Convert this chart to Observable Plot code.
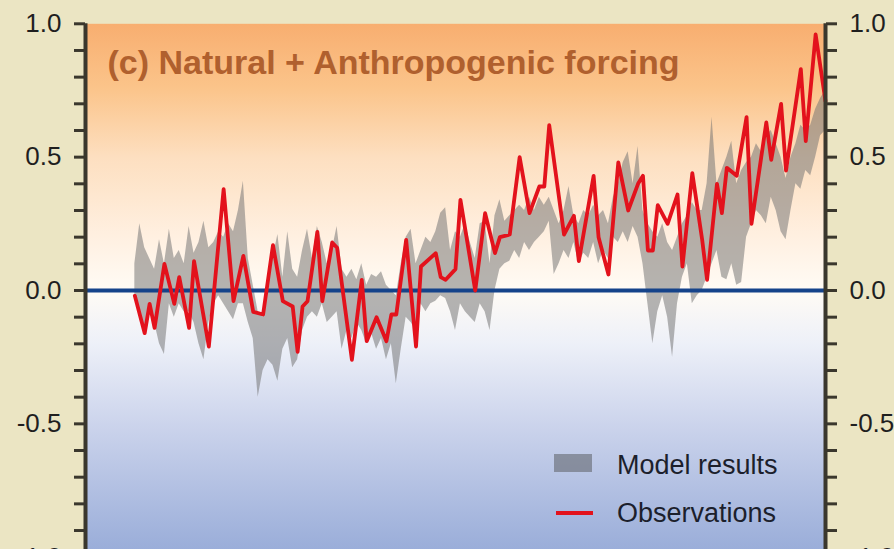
<!DOCTYPE html>
<html>
<head>
<meta charset="utf-8">
<script src="https://cdn.jsdelivr.net/npm/d3@7"></script>
<script src="https://cdn.jsdelivr.net/npm/@observablehq/plot@0.6"></script>
<style>
  html, body { margin: 0; padding: 0; background: #ebe5c3; overflow: hidden; }
  #wrap { position: relative; width: 894px; height: 549px; overflow: hidden; }
  #wrap svg g[aria-label^="y-axis"] line,
  #wrap svg g[aria-label^="y-axis"] path { stroke-width: 3px; stroke: #3a372d; }
  .leg { position: absolute; font-family: 'Liberation Sans', Arial, sans-serif; font-size: 27px; line-height: 27px; color: #1c1f2c; white-space: nowrap; }
</style>
</head>
<body>
<div id="wrap"></div>
<script>
// ---- Data ----
const titleText = "(c) Natural + Anthropogenic forcing";
const legendLabels = ["Model results", "Observations"];

// y-axis ticks (every 0.1) and labelled ticks
const yTicks = [-1.0,-0.9,-0.8,-0.7,-0.6,-0.5,-0.4,-0.3,-0.2,-0.1,0.0,0.1,0.2,0.3,0.4,0.5,0.6,0.7,0.8,0.9,1.0];
const yLabelled = [-1.0, -0.5, 0.0, 0.5, 1.0];

// Observations (red line)
const obsYears = [1860,1862,1863,1864,1866,1868,1869,1871,1872,1875,1878,1880,1882,1884,1886,1888,1890,1892,1893,1894,1895,1897,1898,1900,1901,1904,1906,1907,1909,1911,1912,1913,1915,1917,1918,1921,1922,1923,1925,1926,1929,1931,1933,1934,1936,1938,1940,1942,1943,1944,1947,1949,1950,1953,1954,1956,1958,1960,1962,1963,1964,1965,1966,1968,1970,1971,1973,1975,1976,1978,1979,1980,1982,1984,1985,1988,1989,1991,1992,1995,1996,1998,2000];
const obsValues = [-0.02,-0.16,-0.05,-0.14,0.10,-0.05,0.05,-0.14,0.11,-0.21,0.38,-0.04,0.13,-0.08,-0.09,0.17,-0.04,-0.06,-0.23,-0.06,-0.04,0.22,-0.04,0.18,0.16,-0.26,0.04,-0.19,-0.10,-0.19,-0.09,-0.09,0.19,-0.21,0.09,0.14,0.05,0.04,0.08,0.34,0.00,0.29,0.14,0.20,0.21,0.50,0.29,0.39,0.39,0.62,0.21,0.28,0.11,0.43,0.20,0.06,0.48,0.30,0.40,0.43,0.15,0.15,0.32,0.25,0.36,0.09,0.44,0.19,0.04,0.40,0.29,0.46,0.43,0.65,0.25,0.63,0.49,0.70,0.45,0.83,0.56,0.96,0.71];

// Model results envelope (grey band), one value per year 1860-2000
const bandYears = d3.range(1860, 2001);
const bandLo = [
 -0.02,-0.10,-0.14,-0.05,-0.12,-0.20,-0.24,-0.05,-0.10,-0.05, // 1860-69
 -0.08,-0.08,-0.12,-0.20,-0.26,-0.12,-0.05,-0.02,-0.05,-0.08, // 1870-79
 -0.11,-0.05,-0.05,-0.12,-0.18,-0.40,-0.30,-0.26,-0.28,-0.34, // 1880-89
 -0.22,-0.18,-0.29,-0.26,-0.15,-0.10,-0.08,-0.10,-0.05,-0.12, // 1890-99
 -0.10,-0.08,-0.22,-0.15,-0.18,-0.12,-0.15,-0.20,-0.16,-0.22, // 1900-09
 -0.18,-0.26,-0.20,-0.35,-0.22,-0.10,-0.12,-0.15,-0.05,-0.08, // 1910-19
 -0.05,-0.04,-0.02,-0.03,-0.08,-0.15,-0.05,-0.08,-0.10,-0.12, // 1920-29
 -0.05,-0.08,-0.15, 0.00, 0.08, 0.10, 0.11, 0.15, 0.12, 0.18, // 1930-39
  0.15, 0.18, 0.20, 0.22, 0.26, 0.06, 0.10, 0.15, 0.12, 0.18, // 1940-49
  0.10, 0.14, 0.12, 0.18, 0.10, 0.15, 0.12, 0.20, 0.18, 0.22, // 1950-59
  0.18, 0.24, 0.20, 0.10,-0.05,-0.20,-0.08,-0.02,-0.10,-0.25, // 1960-69
 -0.05, 0.05, 0.10,-0.05,-0.02, 0.00, 0.05, 0.10, 0.15, 0.05, // 1970-79
  0.04, 0.10, 0.02, 0.03, 0.20, 0.25, 0.30, 0.28, 0.25, 0.35, // 1980-89
  0.30, 0.22, 0.19, 0.30, 0.40, 0.38, 0.45, 0.43, 0.50, 0.58, // 1990-99
  0.60];                                                       // 2000
const bandHi = [
  0.10, 0.25, 0.16, 0.12, 0.08, 0.19, 0.10, 0.23, 0.12, 0.15, // 1860-69
  0.10, 0.24, 0.14, 0.18, 0.26, 0.16, 0.18, 0.22, 0.20, 0.25, // 1870-79
  0.22, 0.30, 0.41, 0.12, 0.02,-0.08,-0.10, 0.06, 0.12, 0.21, // 1880-89
  0.05, 0.22, 0.08, 0.05, 0.15, 0.23, 0.12, 0.24, 0.18, 0.10, // 1890-99
  0.15, 0.24, 0.08, 0.05, 0.08, 0.04, 0.10, 0.02, 0.06, 0.05, // 1900-09
  0.07, 0.02, 0.00,-0.02, 0.10, 0.20, 0.23, 0.10, 0.15, 0.20, // 1910-19
  0.18, 0.22, 0.29, 0.31, 0.15, 0.22, 0.20, 0.25, 0.18, 0.12, // 1920-29
  0.25, 0.26, 0.10, 0.28, 0.34, 0.26, 0.28, 0.30, 0.32, 0.30, // 1930-39
  0.35, 0.30, 0.35, 0.32, 0.35, 0.30, 0.25, 0.30, 0.39, 0.28, // 1940-49
  0.25, 0.30, 0.28, 0.32, 0.28, 0.30, 0.25, 0.35, 0.40, 0.48, // 1950-59
  0.52, 0.40, 0.54, 0.30, 0.25, 0.22, 0.20, 0.25, 0.18, 0.15, // 1960-69
  0.20, 0.25, 0.28, 0.33, 0.30, 0.30, 0.40, 0.65, 0.40, 0.45, // 1970-79
  0.50, 0.56, 0.40, 0.45, 0.48, 0.50, 0.55, 0.52, 0.58, 0.60, // 1980-89
  0.55, 0.50, 0.42, 0.50, 0.55, 0.62, 0.60, 0.62, 0.68, 0.72, // 1990-99
  0.75];                                                       // 2000

// ---- Tables built from the arrays ----
const obs = obsYears.map((year, i) => ({year, value: obsValues[i]}));
const band = bandYears.map((year, i) => ({year, lo: bandLo[i], hi: bandHi[i]}));

const fmt = d => yLabelled.some(v => Math.abs(v - d) < 1e-9) ? d.toFixed(1) : "";

const svg = Plot.plot({
  width: 894,
  height: 580,
  marginTop: 23.3,
  marginBottom: 23.3,
  marginLeft: 85,
  marginRight: 69,
  style: {
    fontFamily: "'Liberation Sans', Arial, sans-serif",
    fontSize: "26px",
    background: "transparent",
    color: "#1f1f1f",
    overflow: "visible"
  },
  x: {domain: [1850, 2000], axis: null},
  y: {domain: [-1, 1], axis: "both", ticks: yTicks, tickSize: 11, tickPadding: 13, tickFormat: fmt, label: null},
  marks: [
    Plot.frame({fill: "url(#bgGrad)", stroke: "none"}),
    Plot.areaY(band, {x: "year", y1: "lo", y2: "hi", fill: "#727272", fillOpacity: 0.52, curve: "linear"}),
    Plot.ruleY([0], {stroke: "#15438a", strokeWidth: 4}),
    Plot.line(obs, {x: "year", y: "value", stroke: "#e3121c", strokeWidth: 3.8, curve: "linear"}),
    Plot.ruleX([1850, 2000], {stroke: "#3a372d", strokeWidth: 4}),
    Plot.text([titleText], {frameAnchor: "top-left", dx: 22, dy: 26, fontSize: 34, fontWeight: "bold", fill: "#b0602e"})
  ]
});

// gradient background for the plotting area
const defs = d3.select(svg).insert("defs", ":first-child");
const grad = defs.append("linearGradient").attr("id", "bgGrad").attr("x1", 0).attr("y1", 0).attr("x2", 0).attr("y2", 1);
[[0, "#f8ae70"], [0.12, "#fbc48a"], [0.25, "#fddfc0"], [0.4, "#fff0e1"], [0.5, "#fffbf5"],
 [0.6, "#edf0f8"], [0.75, "#ccd4ec"], [1, "#97abd8"]].forEach(([o, c]) =>
  grad.append("stop").attr("offset", o).attr("stop-color", c));

const wrap = document.getElementById("wrap");
wrap.appendChild(svg);

// legend (inside the plot area)
function addDiv(style, text) {
  const d = document.createElement("div");
  Object.assign(d.style, style);
  if (text) { d.className = "leg"; d.textContent = text; }
  wrap.appendChild(d);
}
addDiv({position: "absolute", left: "554px", top: "454px", width: "38px", height: "18px", background: "#6a6e78", opacity: 0.65});
addDiv({position: "absolute", left: "556px", top: "511px", width: "37px", height: "4px", background: "#e3121c"});
addDiv({left: "617px", top: "452px"}, legendLabels[0]);
addDiv({left: "617px", top: "500px"}, legendLabels[1]);
</script>
</body>
</html>
